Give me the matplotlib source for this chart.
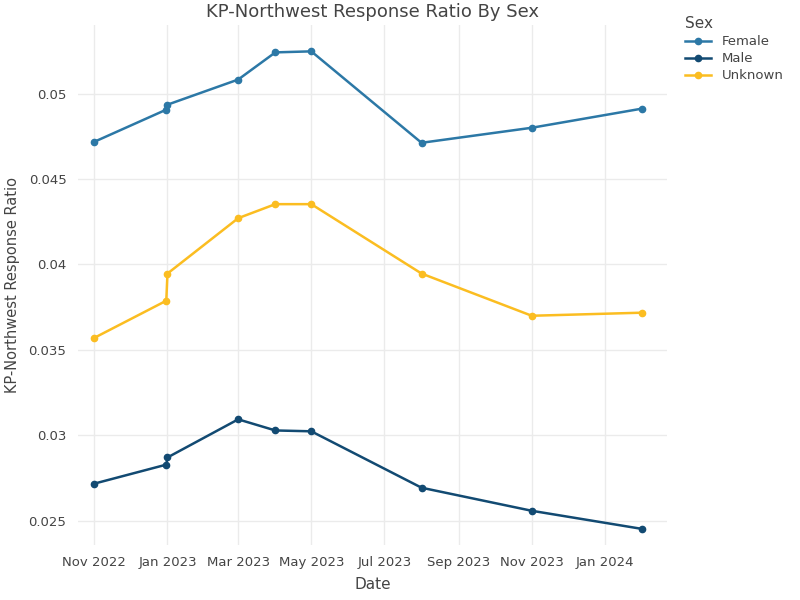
import numpy as np
import pandas as pd
import matplotlib
matplotlib.use("Agg")
import matplotlib.pyplot as plt
import matplotlib.dates as mdates

# data
dates = pd.to_datetime(["2022-11-01", "2022-12-31", "2023-01-01", "2023-03-01", "2023-04-01",
                        "2023-05-01", "2023-08-01", "2023-11-01", "2024-02-01"])
female = [0.04718, 0.04906, 0.04935, 0.05082, 0.05241, 0.05247, 0.04712, 0.04800, 0.04912]
male = [0.02718, 0.02829, 0.02871, 0.03094, 0.03029, 0.03024, 0.02694, 0.02559, 0.02453]
unknown = [0.03571, 0.03788, 0.03947, 0.04271, 0.04353, 0.04353, 0.03947, 0.03700, 0.03718]

series = [("Female", female, "#2c78a6"), ("Male", male, "#124a72"), ("Unknown", unknown, "#fbbd21")]

fig = plt.figure(figsize=(8, 6), dpi=100)
ax = fig.add_axes([0.097, 0.092, 0.737, 0.866])
for name, vals, col in series:
    ax.plot(dates, vals, color=col, lw=1.8, marker="o", ms=4.5, label=name)

ax.set_xlim(pd.Timestamp("2022-10-18"), pd.Timestamp("2024-02-22"))
ax.set_ylim(0.0236, 0.0540)
ax.set_yticks([0.025, 0.03, 0.035, 0.04, 0.045, 0.05])
ax.set_yticklabels(["0.025", "0.03", "0.035", "0.04", "0.045", "0.05"])
ax.xaxis.set_major_locator(mdates.MonthLocator(bymonth=[1, 3, 5, 7, 9, 11]))
ax.xaxis.set_major_formatter(mdates.DateFormatter("%b %Y"))
ax.grid(color="#ebebeb", lw=1)
ax.set_axisbelow(True)
for s in ax.spines.values():
    s.set_visible(False)
ax.tick_params(length=0, labelsize=9.5, colors="#444444", pad=8)
ax.set_xlabel("Date", fontsize=11, color="#444444", labelpad=6)
ax.set_ylabel("KP-Northwest Response Ratio", fontsize=10.5, color="#444444", labelpad=6)
ax.set_title("KP-Northwest Response Ratio By Sex", fontsize=13, color="#444444", pad=6)
leg = ax.legend(title="Sex", loc="upper left", bbox_to_anchor=(1.01, 1.04), frameon=False,
                fontsize=9.5, title_fontsize=11, alignment="left", handlelength=2,
                labelspacing=0.3)
for t in leg.get_texts():
    t.set_color("#444444")
leg.get_title().set_color("#444444")
fig.savefig("out.png")
